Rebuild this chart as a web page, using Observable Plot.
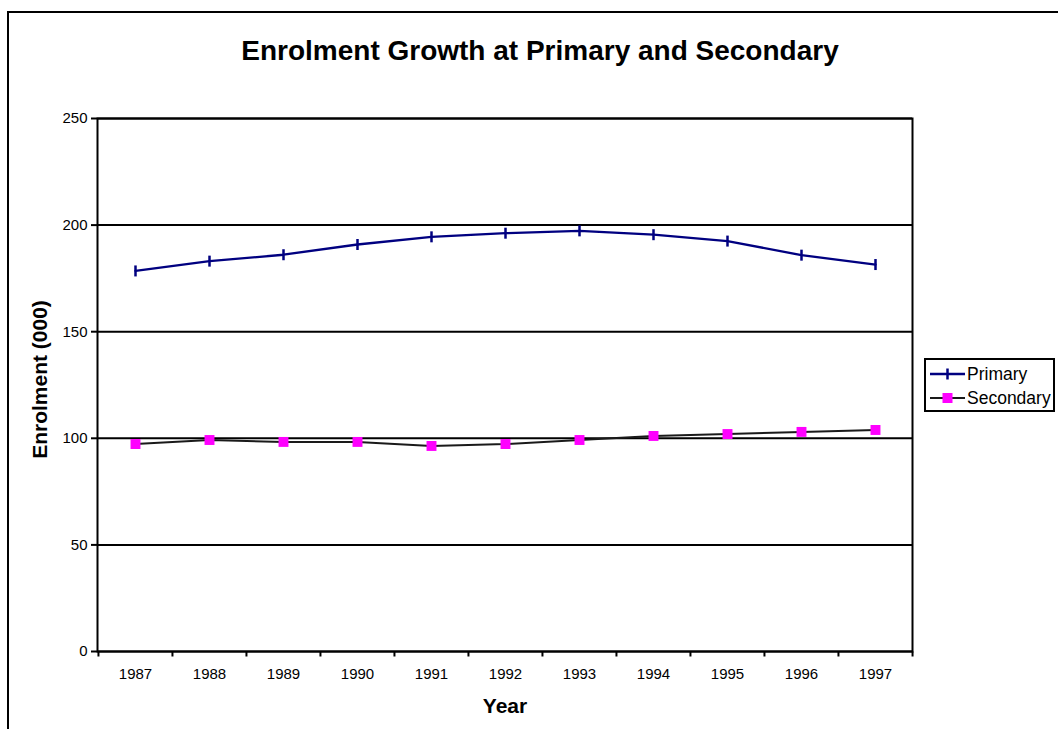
<!DOCTYPE html>
<html>
<head>
<meta charset="utf-8">
<script src="https://cdn.jsdelivr.net/npm/d3@7"></script>
<script src="https://cdn.jsdelivr.net/npm/@observablehq/plot@0.6"></script>
<style>
  html, body { margin: 0; padding: 0; background: #fff; overflow: hidden; }
  body { position: relative; width: 1058px; height: 729px; font-family: "Liberation Sans", Arial, sans-serif; color: #000; }
  #frame { position: absolute; left: 7px; top: 11px; width: 1200px; height: 900px; border: 2px solid #000; box-sizing: border-box; }
  #chart { position: absolute; left: 0; top: 0; }
  #title { position: absolute; left: 140px; width: 800px; top: 37px; text-align: center; font-size: 28px; font-weight: bold; line-height: 28px; white-space: nowrap; }
  #xtitle { position: absolute; left: 405px; width: 200px; top: 695px; text-align: center; font-size: 21px; font-weight: bold; line-height: 21px; }
  #ytitle { position: absolute; left: -111px; width: 300px; top: 368.5px; height: 21px; text-align: center; font-size: 21px; font-weight: bold; line-height: 21px; transform: rotate(-90deg); transform-origin: 50% 50%; white-space: nowrap; }
  #legend { position: absolute; left: 924px; top: 358px; width: 131px; height: 54px; border: 2px solid #000; box-sizing: border-box; background: #fff; padding-top: 2px; }
  .item { display: flex; align-items: center; height: 24px; font-size: 17.5px; line-height: 24px; white-space: nowrap; }
  .item svg { margin-left: 4px; margin-right: 2px; flex: none; }
</style>
</head>
<body>
<div id="frame"></div>
<div id="chart"></div>
<div id="title">Enrolment Growth at Primary and Secondary</div>
<div id="xtitle">Year</div>
<div id="ytitle">Enrolment (000)</div>
<div id="legend"></div>
<script>
// Enrolment in thousands, 1987–1997
const years = ["1987", "1988", "1989", "1990", "1991", "1992", "1993", "1994", "1995", "1996", "1997"];
const primary = [178.5, 183.1, 186.1, 190.9, 194.5, 196.2, 197.3, 195.5, 192.5, 185.9, 181.5];
const secondary = [97.3, 99.2, 98.3, 98.3, 96.4, 97.3, 99.2, 101.1, 102.0, 103.0, 103.9];
const yTicks = [0, 50, 100, 150, 200, 250];
const seriesNames = ["Primary", "Secondary"];

const primaryColor = "#000080";
const secondaryLine = "#1a1a1a";
const secondaryMarker = "#ff00ff";

const rows = (vals, name) => years.map((year, i) => ({year, value: vals[i], series: name}));
const primaryRows = rows(primary, seriesNames[0]);
const secondaryRows = rows(secondary, seriesNames[1]);

// vertical dash marker (half-length equals the dot radius)
const vDash = {
  draw(context, size) {
    const h = Math.sqrt(size / Math.PI);
    context.moveTo(0, -h);
    context.lineTo(0, h);
  }
};

const W = 1058, H = 729;
const mL = 97, mR = 146, mT = 118, mB = 78;
const step = (W - mL - mR) / years.length;

const chart = Plot.plot({
  width: W,
  height: H,
  marginLeft: mL,
  marginRight: mR,
  marginTop: mT,
  marginBottom: mB,
  style: {fontFamily: "'Liberation Sans', Arial, sans-serif", fontSize: "15px", color: "#000", background: "transparent", overflow: "visible"},
  x: {type: "point", domain: years, padding: 0.5, align: 0.5},
  y: {domain: [0, 250]},
  marks: [
    Plot.ruleY(yTicks, {stroke: "#000", strokeWidth: 2}),
    Plot.frame({stroke: "#000", strokeWidth: 2}),
    Plot.axisY({ticks: yTicks, tickSize: 6, tickPadding: 4, fontSize: 15, label: null, strokeWidth: 2}),
    Plot.axisX({tickSize: 0, tickPadding: 17, fontSize: 15, label: null}),
    // category separator ticks below the x axis
    Plot.dot(years, {x: d => d, y: () => 0, symbol: vDash, r: 2.5, dy: 2.5, dx: -step / 2, fill: "none", stroke: "#000", strokeWidth: 2}),
    Plot.dot(years.slice(-1), {x: d => d, y: () => 0, symbol: vDash, r: 2.5, dy: 2.5, dx: step / 2, fill: "none", stroke: "#000", strokeWidth: 2}),
    Plot.line(secondaryRows, {x: "year", y: "value", stroke: secondaryLine, strokeWidth: 2}),
    Plot.dot(secondaryRows, {x: "year", y: "value", symbol: "square", r: 5.6, fill: secondaryMarker, stroke: "none"}),
    Plot.line(primaryRows, {x: "year", y: "value", stroke: primaryColor, strokeWidth: 2.3}),
    Plot.dot(primaryRows, {x: "year", y: "value", symbol: vDash, r: 5.5, fill: "none", stroke: primaryColor, strokeWidth: 2.5})
  ]
});
document.getElementById("chart").append(chart);

// legend entries
const legend = document.getElementById("legend");
const entries = [
  {name: seriesNames[0], line: primaryColor, marker: "dash"},
  {name: seriesNames[1], line: secondaryLine, marker: "square"}
];
for (const e of entries) {
  const row = document.createElement("div");
  row.className = "item";
  const ns = "http://www.w3.org/2000/svg";
  const svg = document.createElementNS(ns, "svg");
  svg.setAttribute("width", 35);
  svg.setAttribute("height", 14);
  const ln = document.createElementNS(ns, "line");
  ln.setAttribute("x1", 0); ln.setAttribute("x2", 35);
  ln.setAttribute("y1", 7); ln.setAttribute("y2", 7);
  ln.setAttribute("stroke", e.line);
  ln.setAttribute("stroke-width", e.marker === "dash" ? 2.3 : 2);
  svg.append(ln);
  if (e.marker === "dash") {
    const m = document.createElementNS(ns, "line");
    m.setAttribute("x1", 17.5); m.setAttribute("x2", 17.5);
    m.setAttribute("y1", 1.5); m.setAttribute("y2", 12.5);
    m.setAttribute("stroke", e.line);
    m.setAttribute("stroke-width", 2.5);
    svg.append(m);
  } else {
    const m = document.createElementNS(ns, "rect");
    m.setAttribute("x", 12.5); m.setAttribute("y", 2);
    m.setAttribute("width", 10); m.setAttribute("height", 10);
    m.setAttribute("fill", secondaryMarker);
    svg.append(m);
  }
  row.append(svg);
  const label = document.createElement("span");
  label.textContent = e.name;
  row.append(label);
  legend.append(row);
}
</script>
</body>
</html>
